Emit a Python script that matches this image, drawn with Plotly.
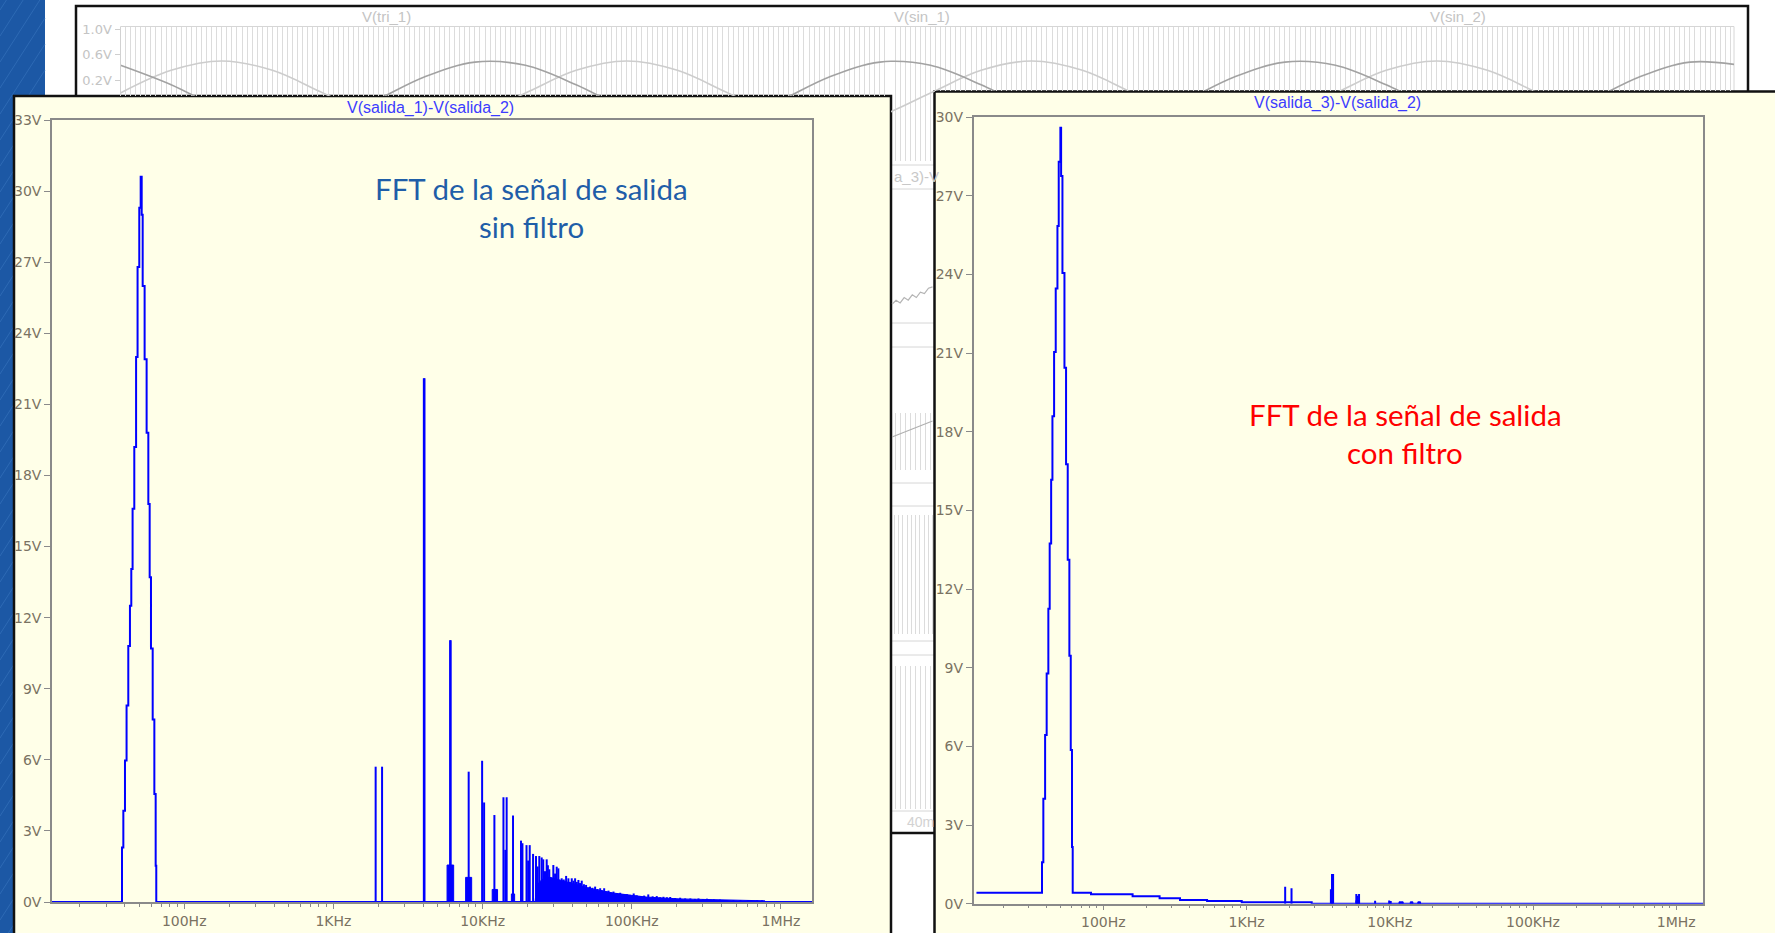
import plotly.graph_objects as go

W, H = 1775, 933

# ---------------- FFT of V(salida_1)-V(salida_2) (no filter) ----------------
# fundamental lobe around 50 Hz, stepped bins (Hz, V)
peak1_f = [38.3, 39.1, 40.1, 41.1, 42.2, 43.3, 44.2, 45.1, 46.3, 47.6, 48.7, 50.0,
           51.1, 51.9, 52.7, 54.3, 56.0, 57.5, 58.7, 59.9, 61.5, 63.1, 64.4, 65.0]
peak1_v = [2.3, 3.85, 5.97, 8.29, 10.8, 12.5, 14.05, 16.6, 19.2, 23.0, 26.8, 29.3,
           30.6, 29.0, 26.0, 22.9, 19.8, 16.8, 13.7, 10.7, 7.7, 4.56, 1.53, 0.0]

# switching harmonics and sidebands (Hz, V)
lines1_f = [1920, 2120, 4040, 4080, 6060, 6110, 8070, 9930, 10240, 12000, 13800, 14200,
            14500, 16000, 18100, 18500, 19700, 20200, 20700, 21800, 22800, 23400, 24000,
            24900, 25500, 26200, 26900, 27400, 28000, 29800, 30600, 31400, 32200, 33900,
            35000, 36300, 37600, 38500, 39600, 40600, 41700, 42800, 43900, 45000, 46200,
            47800, 49400, 51000, 52500, 54500, 56800, 59000, 61400, 63000, 65300, 67500,
            69800, 72000, 75400, 79000, 83600, 88000, 92700, 97500, 103000, 108000,
            114000, 121000, 129000, 138000, 147000, 155000, 163000, 172000, 181000,
            195000, 211000, 228000, 247000, 265000, 280000, 300000, 319000, 354000,
            390000, 435000, 480000, 535000, 600000, 692000, 747000]
lines1_v = [5.71, 5.71, 22.1, 22.1, 11.05, 11.05, 5.5, 5.96, 4.2, 3.67, 4.42, 2.2,
            4.42, 3.65, 2.59, 2.48, 2.4, 1.75, 2.4, 2.03, 1.94, 1.5, 1.94,
            1.88, 1.8, 1.3, 1.8, 1.55, 1.38, 1.56, 1.2, 1.49, 1.42, 1.0,
            0.95, 1.1, 1.0, 0.85, 1.0, 0.9, 1.0, 0.85, 0.93, 0.8, 0.9,
            0.75, 0.72, 0.62, 0.65, 0.6, 0.65, 0.55, 0.58, 0.5, 0.58, 0.45,
            0.48, 0.42, 0.44, 0.38, 0.39, 0.33, 0.33, 0.3, 0.36, 0.28,
            0.25, 0.27, 0.32, 0.24, 0.25, 0.2, 0.22, 0.2, 0.21,
            0.17, 0.18, 0.15, 0.15, 0.13, 0.15, 0.12, 0.14, 0.11,
            0.1, 0.08, 0.08, 0.08, 0.07, 0.07, 0.07]

# sideband clusters at the foot of the harmonics (Hz from, Hz to, V)
bands1_lo = [5780, 7700, 11600, 15600]
bands1_hi = [6400, 8450, 12600, 16400]
bands1_v = [1.56, 1.04, 0.53, 0.34]

# dense high-frequency sideband floor (Hz, V)
floor1_f = [22500, 23000, 25000, 28000, 32000, 36000, 40000, 45000, 50000, 60000,
            75000, 100000, 125000, 160000, 211000, 350000, 500000, 700000, 780000, 790000]
floor1_v = [0.0, 0.7, 0.95, 1.05, 0.95, 0.85, 0.78, 0.7, 0.6, 0.5,
            0.38, 0.28, 0.21, 0.17, 0.13, 0.1, 0.08, 0.06, 0.05, 0.0]

# ---------------- FFT of V(salida_3)-V(salida_2) (filtered) ----------------
main2_f = [13.0, 37.3, 38.1, 39.2, 40.2, 41.3, 42.2, 43.2, 44.1, 45.3, 46.5, 47.8, 48.8,
           50.1, 50.7, 51.8, 53.5, 54.9, 56.4, 57.9, 59.2, 60.4, 61.1, 82, 160, 247,
           343, 530, 925, 2850, 1.6e6]
main2_v = [0.42, 1.58, 4.0, 6.44, 8.78, 11.25, 13.74, 16.17, 18.6, 21.05, 23.47, 25.85,
           28.3, 29.6, 27.76, 24.06, 20.45, 16.76, 13.12, 9.46, 5.86, 2.16, 0.42, 0.36,
           0.28, 0.21, 0.14, 0.1, 0.06, 0.0, 0.0]

lines2_f = [1860, 2060, 3880, 3950, 4020, 5840, 5950, 6100, 7900, 9900, 10150]
lines2_v = [0.65, 0.59, 0.55, 1.13, 1.13, 0.37, 0.3, 0.37, 0.11, 0.12, 0.1]

bands2_lo = [5800, 11600, 13900, 15700]
bands2_hi = [6150, 12400, 14500, 16400]
bands2_v = [0.12, 0.07, 0.07, 0.07]

# ---------------- transient window behind (time in ms, volts) ----------------
wave_t = [0, 2.5, 5, 7.5, 10, 12.5, 15, 17.5, 20, 22.5, 25, 27.5, 30, 32.5, 35, 37.5,
          40, 42.5, 45, 47.5, 50, 52.5, 55, 57.5, 60, 62.5, 65, 67.5, 70, 72.5, 75,
          77.5, 80]
sin1_v = [0, 0.354, 0.5, 0.354, 0, -0.354, -0.5, -0.354,
          0, 0.354, 0.5, 0.354, 0, -0.354, -0.5, -0.354,
          0, 0.354, 0.5, 0.354, 0, -0.354, -0.5, -0.354,
          0, 0.354, 0.5, 0.354, 0, -0.354, -0.5, -0.354, 0]
sin2_v = [0.433, 0.129, -0.25, -0.483, -0.433, -0.129, 0.25, 0.483,
          0.433, 0.129, -0.25, -0.483, -0.433, -0.129, 0.25, 0.483,
          0.433, 0.129, -0.25, -0.483, -0.433, -0.129, 0.25, 0.483,
          0.433, 0.129, -0.25, -0.483, -0.433, -0.129, 0.25, 0.483, 0.433]
carrier_half_period_ms = 0.25
pane2_t = [38.1, 38.3, 38.5, 38.7, 38.9, 39.1, 39.3, 39.5, 39.7, 39.9, 40.1]
pane2_v = [0.14, 0.17, 0.15, 0.19, 0.17, 0.21, 0.19, 0.23, 0.22, 0.26, 0.27]
pane3_t = [38.1, 40.1]
pane3_v = [0.58, 0.86]

freq_ticks = [100, 1000, 10000, 100000, 1000000]
freq_labels = ["100Hz", "1KHz", "10KHz", "100KHz", "1MHz"]
volt_ticks1 = list(range(0, 34, 3))
volt_ticks2 = list(range(0, 31, 3))

# ---------------- styling ----------------
BLUE = "#0000ff"
CREAM = "#ffffe8"
AXIS = "#8a8a8a"
TICKTXT = "#7a7262"
FAINT = "#c4c4c4"
TICK_FONT = "DejaVu Sans, Verdana, sans-serif"
TITLE_FONT = "Liberation Sans, Arial, sans-serif"
SLIDE_FONT = "Lato, Open Sans, sans-serif"


def xd(a, b):
    return [a / W, b / W]


def yd(top, bottom):
    return [1 - bottom / H, 1 - top / H]


def t_at(px):
    return (px - 120.5) / 20.25


def v_at(py):
    return 1.0 - (py - 29) / 64


def spikes(fs, vs):
    x, y = [], []
    for f, v in zip(fs, vs):
        x += [f, f, None]
        y += [0, v, None]
    return x, y


def blocks(lo, hi, vs):
    x, y = [], []
    for a, b, v in zip(lo, hi, vs):
        x += [a, a, b, b, None]
        y += [0, v, v, 0, None]
    return x, y


minor_f = [k * 10 ** n for n in range(1, 7) for k in range(2, 10)]

fig = go.Figure()

# ---- left FFT
x1_lo, x1_hi = 10 ** 1.114, 10 ** 6.208
fig.add_trace(go.Scatter(x=[x1_lo] + peak1_f + [x1_hi], y=[0] + peak1_v + [0],
                         mode="lines", line=dict(color=BLUE, width=2, shape="hv"),
                         xaxis="x", yaxis="y", hoverinfo="skip"))
bx, by = blocks(bands1_lo, bands1_hi, bands1_v)
fig.add_trace(go.Scatter(x=bx, y=by, mode="lines", fill="toself", fillcolor=BLUE,
                         line=dict(color=BLUE, width=1), xaxis="x", yaxis="y", hoverinfo="skip"))
fig.add_trace(go.Scatter(x=floor1_f, y=floor1_v, mode="lines", fill="tozeroy", fillcolor=BLUE,
                         line=dict(color=BLUE, width=1), xaxis="x", yaxis="y", hoverinfo="skip"))
sx, sy = spikes(lines1_f, lines1_v)
fig.add_trace(go.Scatter(x=sx, y=sy, mode="lines", line=dict(color=BLUE, width=2),
                         xaxis="x", yaxis="y", hoverinfo="skip"))

# ---- right FFT
fig.add_trace(go.Scatter(x=main2_f, y=main2_v, mode="lines",
                         line=dict(color=BLUE, width=2, shape="hv"),
                         xaxis="x2", yaxis="y2", hoverinfo="skip"))
bx, by = blocks(bands2_lo, bands2_hi, bands2_v)
fig.add_trace(go.Scatter(x=bx, y=by, mode="lines", fill="toself", fillcolor=BLUE,
                         line=dict(color=BLUE, width=1), xaxis="x2", yaxis="y2", hoverinfo="skip"))
sx, sy = spikes(lines2_f, lines2_v)
fig.add_trace(go.Scatter(x=sx, y=sy, mode="lines", line=dict(color=BLUE, width=2),
                         xaxis="x2", yaxis="y2", hoverinfo="skip"))

# ---- transient window: sines in the three visible pieces of pane 1
for xa, ya in (("x3", "y3"), ("x4", "y4"), ("x5", "y5")):
    fig.add_trace(go.Scatter(x=wave_t, y=sin1_v, mode="lines",
                             line=dict(color="#cdcdcd", width=1.6, shape="spline"),
                             xaxis=xa, yaxis=ya, hoverinfo="skip"))
    fig.add_trace(go.Scatter(x=wave_t, y=sin2_v, mode="lines",
                             line=dict(color="#a2a2a2", width=1.6, shape="spline"),
                             xaxis=xa, yaxis=ya, hoverinfo="skip"))
fig.add_trace(go.Scatter(x=pane2_t, y=pane2_v, mode="lines",
                         line=dict(color="#b4b4b4", width=1.2),
                         xaxis="x9", yaxis="y9", hoverinfo="skip"))
fig.add_trace(go.Scatter(x=pane3_t, y=pane3_v, mode="lines",
                         line=dict(color="#b0b0b0", width=1.2),
                         xaxis="x6", yaxis="y6", hoverinfo="skip"))
for xa, ya in (("x7", "y7"), ("x8", "y8")):
    fig.add_trace(go.Scatter(x=[], y=[], mode="lines", xaxis=xa, yaxis=ya, hoverinfo="skip"))

layout = dict(
    width=W, height=H, margin=dict(l=0, r=0, t=0, b=0, autoexpand=False),
    paper_bgcolor="white", plot_bgcolor="rgba(0,0,0,0)", showlegend=False,
)

fft_x_common = dict(type="log", showline=True, linecolor=AXIS, linewidth=1.5, mirror=True,
                    ticks="outside", ticklen=5, tickcolor=AXIS, tickwidth=1, automargin=False,
                    tickvals=freq_ticks, ticktext=freq_labels, showgrid=False, zeroline=False,
                    tickfont=dict(family=TICK_FONT, size=14, color=TICKTXT),
                    minor=dict(tickvals=minor_f, ticks="outside", ticklen=3, tickcolor=AXIS,
                               showgrid=False))
fft_y_common = dict(showline=True, linecolor=AXIS, linewidth=1.5, mirror=True, automargin=False,
                    ticks="outside", ticklen=6, tickcolor=AXIS, showgrid=False, zeroline=False,
                    tickfont=dict(family=TICK_FONT, size=14, color=TICKTXT))

layout["xaxis"] = dict(fft_x_common, domain=xd(52, 812), range=[1.114, 6.208], anchor="y")
layout["yaxis"] = dict(fft_y_common, domain=yd(120, 902), range=[0, 33], anchor="x",
                       tickvals=volt_ticks1, ticktext=[f"{v}V" for v in volt_ticks1])
layout["xaxis2"] = dict(fft_x_common, domain=xd(973.6, 1703), range=[1.094, 6.187], anchor="y2")
layout["yaxis2"] = dict(fft_y_common, domain=yd(117.3, 903.7), range=[0, 30], anchor="x2",
                        tickvals=volt_ticks2, ticktext=[f"{v}V" for v in volt_ticks2])

comb = dict(showgrid=True, gridcolor="#dcdcdc", gridwidth=1, tick0=0, automargin=False,
            dtick=carrier_half_period_ms, showticklabels=False, ticks="", zeroline=False,
            showline=False)
hidden_y = dict(showgrid=False, showticklabels=False, ticks="", zeroline=False, showline=False,
                automargin=False)
plain_x = dict(showgrid=False, showticklabels=False, ticks="", zeroline=False, showline=False,
               automargin=False)

layout["xaxis3"] = dict(comb, domain=xd(120.5, 891), range=[t_at(120.5), t_at(891)], anchor="y3")
layout["yaxis3"] = dict(domain=yd(26.5, 96), range=[v_at(96), v_at(26.5)], anchor="x3",
                        showgrid=False, zeroline=False, showline=True, linecolor="#d2d2d2",
                        ticks="outside", ticklen=5, tickcolor="#cfcfcf", automargin=False,
                        tickvals=[1.0, 0.6, 0.2], ticktext=["1.0V", "0.6V", "0.2V"],
                        tickfont=dict(family=TICK_FONT, size=13, color=FAINT))
layout["xaxis4"] = dict(comb, domain=xd(891, 1734), range=[t_at(891), t_at(1734)], anchor="y4")
layout["yaxis4"] = dict(hidden_y, domain=yd(26.5, 90.6), range=[v_at(90.6), v_at(26.5)], anchor="x4")
layout["xaxis5"] = dict(comb, domain=xd(891, 935), range=[t_at(891), t_at(935)], anchor="y5")
layout["yaxis5"] = dict(hidden_y, domain=yd(90.6, 161), range=[v_at(161), v_at(90.6)], anchor="x5")
# lower panes of the transient window
layout["xaxis9"] = dict(plain_x, domain=xd(891, 935), range=[t_at(891), t_at(935)], anchor="y9")
layout["yaxis9"] = dict(hidden_y, domain=yd(189, 323), range=[0, 1], anchor="x9")
layout["xaxis6"] = dict(comb, domain=xd(891, 935), range=[t_at(891), t_at(935)], anchor="y6")
layout["yaxis6"] = dict(hidden_y, domain=yd(413, 470), range=[0, 1], anchor="x6")
layout["xaxis7"] = dict(comb, domain=xd(891, 935), range=[t_at(891), t_at(935)], anchor="y7",
                        dtick=0.21)
layout["yaxis7"] = dict(hidden_y, domain=yd(515, 634), range=[0, 1], anchor="x7")
layout["xaxis8"] = dict(comb, domain=xd(891, 935), range=[t_at(891), t_at(935)], anchor="y8")
layout["yaxis8"] = dict(hidden_y, domain=yd(666, 809), range=[0, 1], anchor="x8")


def rect(x0, y0, x1, y1, fill=None, line=None, lw=0):
    return dict(type="rect", xref="paper", yref="paper", layer="below",
                x0=x0 / W, x1=x1 / W, y0=1 - y1 / H, y1=1 - y0 / H,
                fillcolor=fill or "rgba(0,0,0,0)",
                line=dict(color=line or "rgba(0,0,0,0)", width=lw))


def seg(x0, y0, x1, y1, color, width):
    return dict(type="line", xref="paper", yref="paper", layer="below",
                x0=x0 / W, x1=x1 / W, y0=1 - y0 / H, y1=1 - y1 / H,
                line=dict(color=color, width=width))


shapes = [rect(0, 0, 45, H, fill="#1c58a5")]
# faint streaks of the slide background
for y0 in range(-60, 1000, 26):
    shapes.append(seg(0, y0 + 70, 45, y0, "#2d6ab4", 1))
# transient window behind both FFT windows
shapes.append(rect(76, 6, 1748, 833, fill="white", line="#111111", lw=2.5))
for top, bot in ((26.5, 165), (189, 323), (347, 483), (506, 641), (655, 811)):
    shapes.append(rect(120.5, top, 1734, bot, line="#d6d6d6", lw=1))
# FFT windows
shapes.append(rect(14, 96, 891, 960, fill=CREAM, line="#111111", lw=2.5))
shapes.append(rect(934.5, 91.5, 1800, 960, fill=CREAM, line="#111111", lw=2.5))
layout["shapes"] = shapes


def note(x, y, text, size, color, family=TITLE_FONT, xanchor="center"):
    return dict(x=x / W, y=1 - y / H, xref="paper", yref="paper", text=text, showarrow=False,
                xanchor=xanchor, yanchor="middle", font=dict(family=family, size=size, color=color))


layout["annotations"] = [
    note(386, 16, "V(tri_1)", 15, FAINT),
    note(922, 16, "V(sin_1)", 15, FAINT),
    note(1458, 16, "V(sin_2)", 15, FAINT),
    note(892, 176, "a_3)-V", 15, "#c8c8c8", xanchor="left"),
    note(920, 822, "40m", 14, "#d2d2d2"),
    note(430, 108, "V(salida_1)-V(salida_2)", 16, "#3c3cff"),
    note(1337, 103, "V(salida_3)-V(salida_2)", 16, "#3c3cff"),
    note(531, 188, "FFT de la señal de salida", 29.5, "#1f5ea8", SLIDE_FONT),
    note(531, 226, "sin filtro", 29.5, "#1f5ea8", SLIDE_FONT),
    note(1405, 414, "FFT de la señal de salida", 29.5, "#ff0000", SLIDE_FONT),
    note(1405, 452, "con filtro", 29.5, "#ff0000", SLIDE_FONT),
]

fig.update_layout(**layout)
fig.write_html("out.html")
